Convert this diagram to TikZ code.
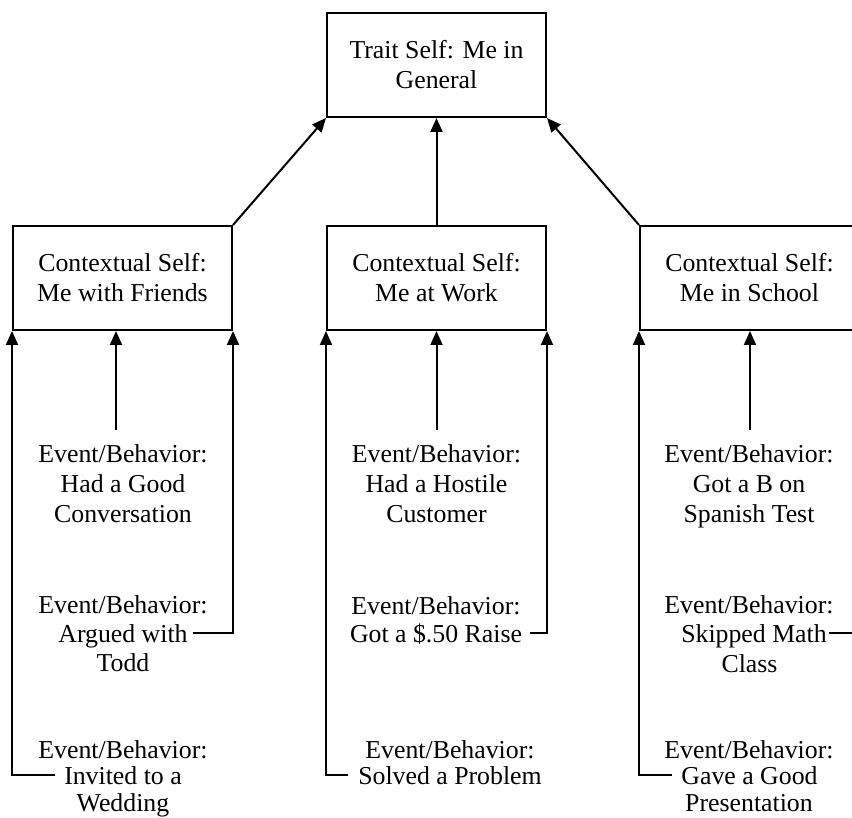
\documentclass[tikz,border=0pt]{standalone}
\usepackage{fontspec}
\setmainfont{Liberation Serif}
\usetikzlibrary{arrows.meta,calc}
\begin{document}
\begin{tikzpicture}[x=1pt,y=-1pt,
  box/.style={draw,line width=2pt,minimum width=219pt,minimum height=104pt,inner sep=0pt,align=center,font=\fontsize{25.8}{30}\selectfont},
  txt/.style={inner xsep=0pt,inner ysep=0pt,text height=18pt,text depth=0pt,font=\fontsize{25.8}{30}\selectfont},
  link/.style={line width=2pt,-{Triangle[length=14pt,width=12pt]}},
  gap/.style={inner xsep=#1}
]
\useasboundingbox (0,0) rectangle (852,818);
\clip (0,0) rectangle (852,818);

% boxes
\node[box] (top) at (436.5,65) {Trait Self: Me in\\General};
\node[box] (ctxA) at (122.5,278) {Contextual Self:\\Me with Friends};
\node[box] (ctxB) at (436.5,278) {Contextual Self:\\Me at Work};
\node[box] (ctxC) at (749.5,278) {Contextual Self:\\Me in School};

\draw[link] (ctxA.north east) -- (top.south west);
\draw[link] (ctxB.north) -- (top.south);
\draw[link] (ctxC.north west) -- (top.south east);

% left column
\node[txt] (e1a) at (123,453) {Event/Behavior:};
\node[txt] (e1b) at (123,483) {Had a Good};
\node[txt] (e1c) at (123,513) {Conversation};
\coordinate (c1) at (116,430);
\draw[link] (c1) -- (c1 |- ctxA.south);

\node[txt] (e2a) at (123,604) {Event/Behavior:};
\node[txt,gap=5pt] (e2b) at (123,633) {Argued with};
\node[txt] (e2c) at (123,662) {Todd};
\draw[link] (e2b.east) -| (ctxA.south east);

\node[txt] (e3a) at (123,749) {Event/Behavior:};
\node[txt,gap=9pt] (e3b) at (123,775) {Invited to a};
\node[txt] (e3c) at (123,802) {Wedding};
\draw[link] (e3b.west) -| (ctxA.south west);

% middle column
\node[txt] (m1a) at (436.5,453) {Event/Behavior:};
\node[txt] (m1b) at (436.5,483) {Had a Hostile};
\node[txt] (m1c) at (436.5,513) {Customer};
\coordinate (c2) at (436.5,430);
\draw[link] (c2) -- (c2 |- ctxB.south);

\node[txt] (m2a) at (436,605) {Event/Behavior:};
\node[txt,gap=8pt] (m2b) at (436,633) {Got a \$.50 Raise};
\draw[link] (m2b.east) -| (ctxB.south east);

\node[txt] (m3a) at (450,749) {Event/Behavior:};
\node[txt,gap=10pt] (m3b) at (450,775) {Solved a Problem};
\draw[link] (m3b.west) -| (ctxB.south west);

% right column
\node[txt] (r1a) at (749,453) {Event/Behavior:};
\node[txt] (r1b) at (749,483) {Got a B on};
\node[txt] (r1c) at (749,513) {Spanish Test};
\coordinate (c3) at (750,430);
\draw[link] (c3) -- (c3 |- ctxC.south);

\node[txt] (r2a) at (749,604) {Event/Behavior:};
\node[txt,gap=2pt] (r2b) at (754,633) {Skipped Math};
\node[txt] (r2c) at (749.5,663) {Class};
\draw[link] (r2b.east) -| (ctxC.south east);

\node[txt] (r3a) at (749,749) {Event/Behavior:};
\node[txt,gap=9pt] (r3b) at (749.5,775) {Gave a Good};
\node[txt] (r3c) at (749,802) {Presentation};
\draw[link] (r3b.west) -| (ctxC.south west);
\end{tikzpicture}
\end{document}
